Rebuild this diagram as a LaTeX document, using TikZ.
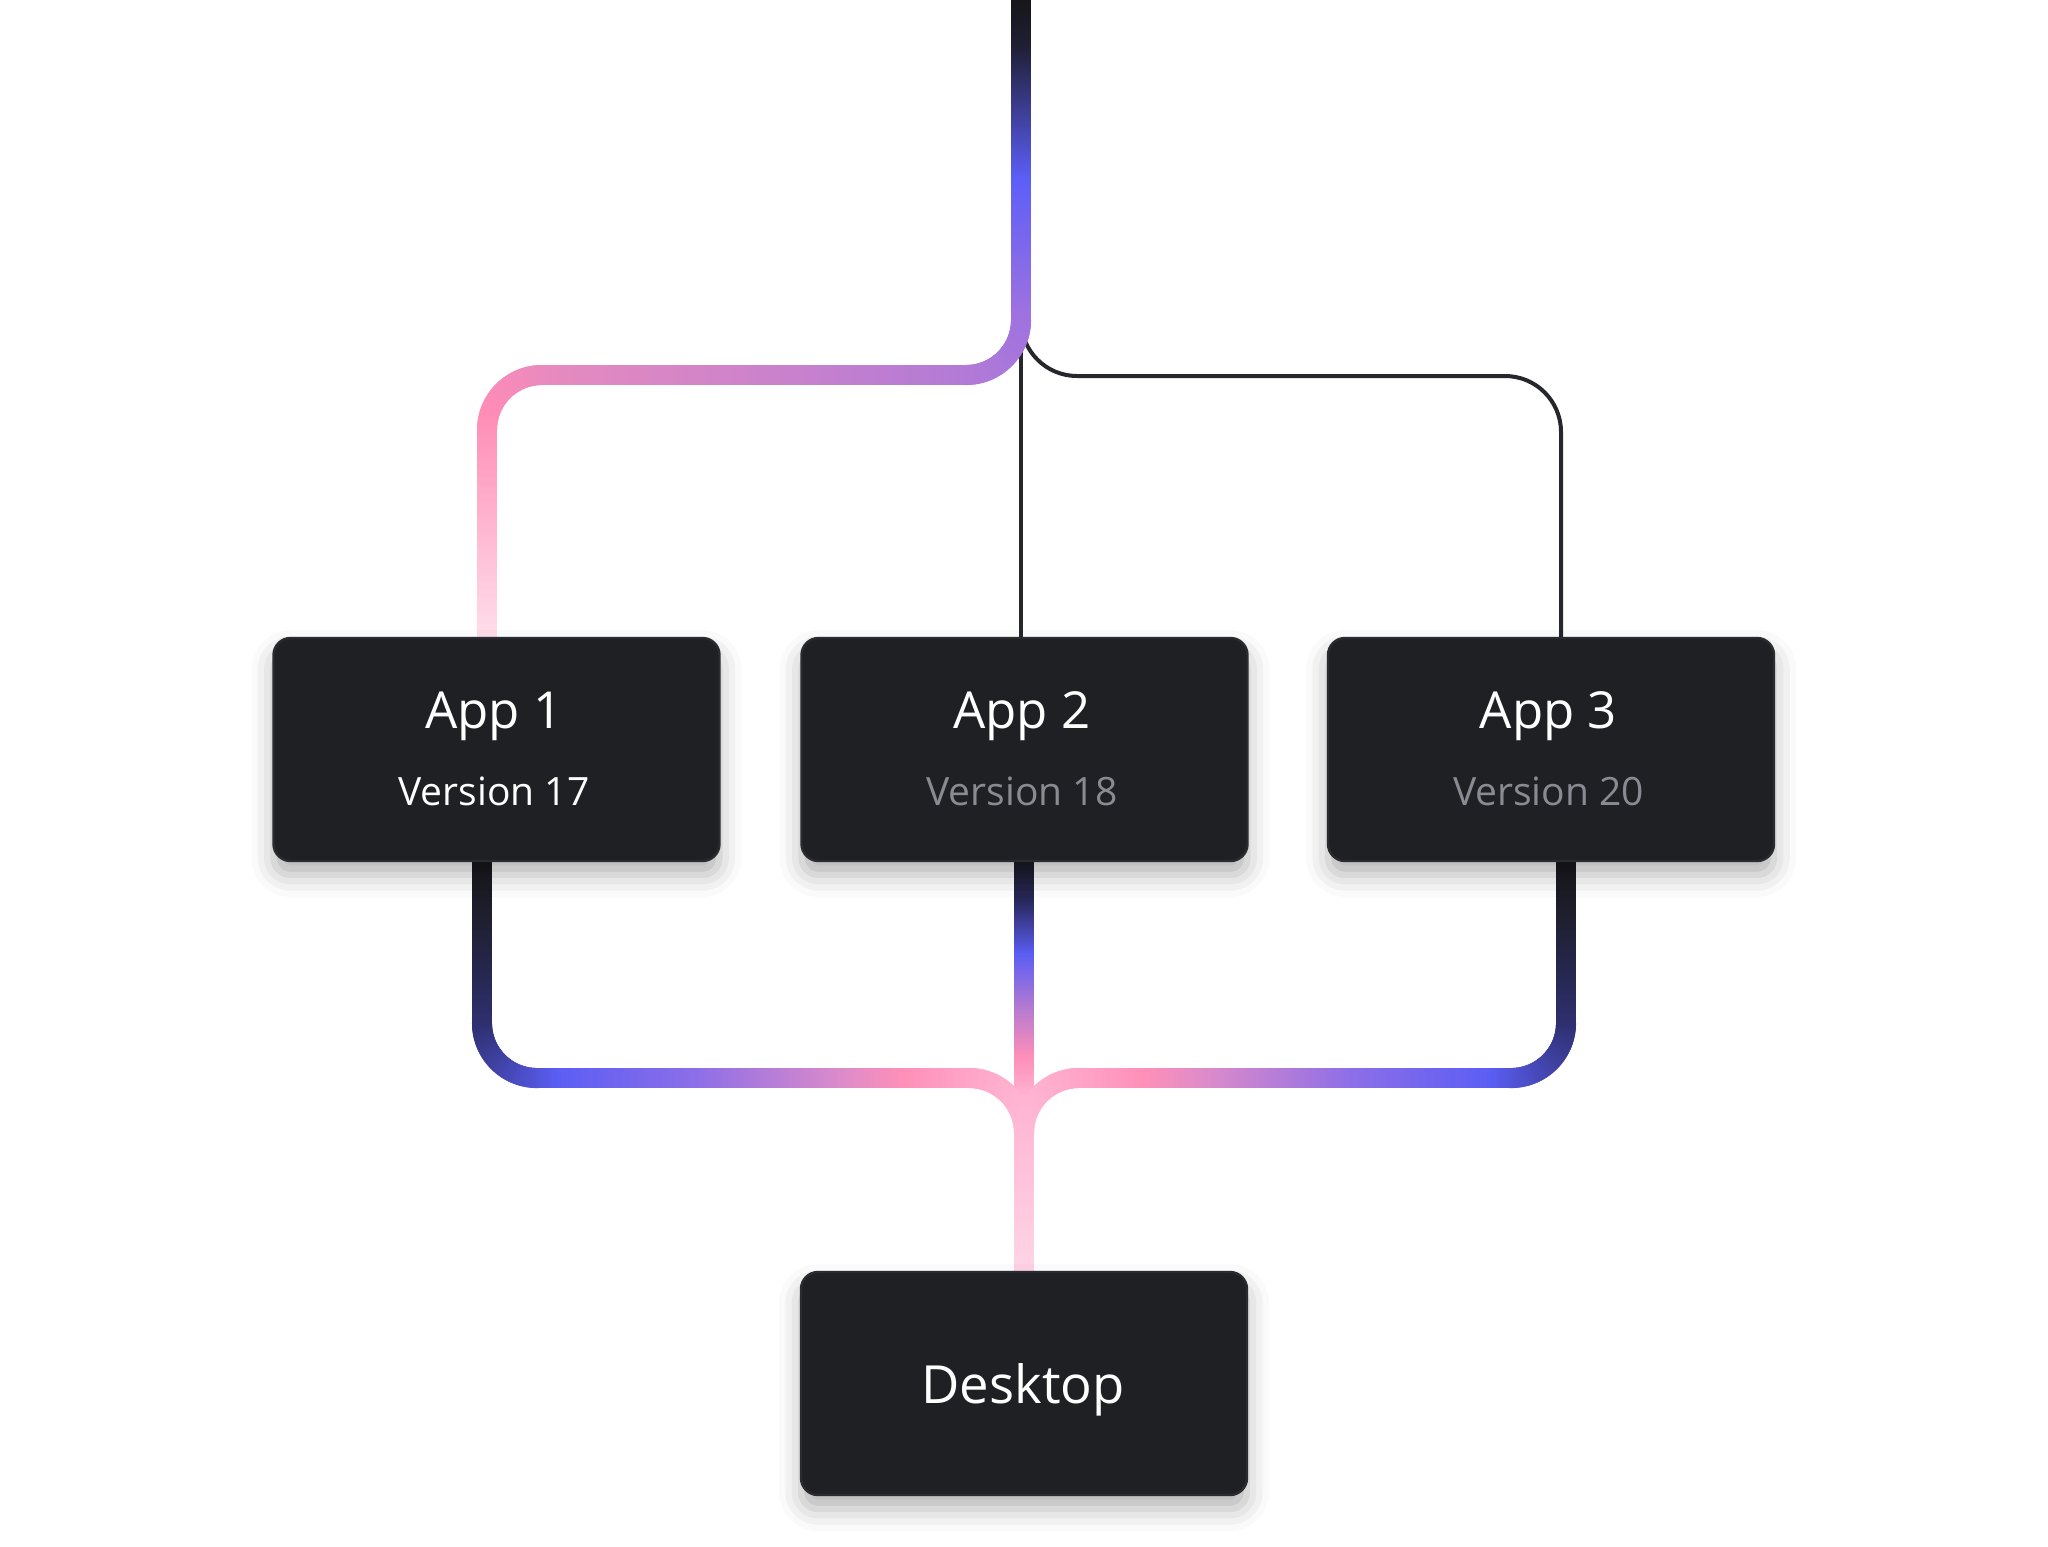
\documentclass[tikz,border=0pt]{standalone}
\usepackage{fontspec}
\setmainfont{Open Sans}
\usetikzlibrary{decorations.markings,shadows.blur,backgrounds}

\definecolor{boxfill}{HTML}{1F2024}
\definecolor{boxedge}{HTML}{2A2B30}
\definecolor{thinc}{HTML}{26272B}
\definecolor{vgray}{HTML}{8A8B92}

\let\gdT\relax
\makeatletter
\newcommand\defgrad[2]{%
  \gdef\acc@R{}\gdef\acc@G{}\gdef\acc@B{}%
  \foreach \qP/\qR/\qG/\qB [count=\qi, remember=\qP as \qpP (initially 0),
      remember=\qR as \qpR (initially 0), remember=\qG as \qpG (initially 0),
      remember=\qB as \qpB (initially 0)] in {#2}{%
    \ifnum\qi=1
      \xdef\acc@R{\qR}\xdef\acc@G{\qG}\xdef\acc@B{\qB}%
    \else
      \xdef\acc@R{\unexpanded\expandafter{\acc@R}+(\qR-\qpR)*min(max((\noexpand\gdT-\qpP)/(\qP-\qpP),0),1)}%
      \xdef\acc@G{\unexpanded\expandafter{\acc@G}+(\qG-\qpG)*min(max((\noexpand\gdT-\qpP)/(\qP-\qpP),0),1)}%
      \xdef\acc@B{\unexpanded\expandafter{\acc@B}+(\qB-\qpB)*min(max((\noexpand\gdT-\qpP)/(\qP-\qpP),0),1)}%
    \fi}%
  \expandafter\xdef\csname gradR@#1\endcsname{\unexpanded\expandafter{\acc@R}}%
  \expandafter\xdef\csname gradG@#1\endcsname{\unexpanded\expandafter{\acc@G}}%
  \expandafter\xdef\csname gradB@#1\endcsname{\unexpanded\expandafter{\acc@B}}%
}
\makeatother

\defgrad{A}{0/22/22/26, 0.04/30/30/50, 0.16/92/94/248, 0.28/158/114/224,
  0.36/178/122/214, 0.72/228/138/192, 0.80/255/140/182, 1/255/222/234}
\defgrad{B}{0/24/24/28, 0.06/30/30/45, 0.18/46/47/110, 0.30/91/94/245,
  0.45/140/110/232, 0.62/224/140/200, 0.68/255/143/184, 0.80/255/178/208, 1/255/212/229}
\defgrad{D}{0/26/26/36, 0.10/40/40/90, 0.23/91/94/245, 0.36/180/122/208,
  0.48/255/143/184, 0.58/255/180/210, 1/255/212/229}

\tikzset{
  gradpath/.style={
    postaction={decorate},
    decoration={markings,
      mark=between positions 0 and 1 step 1pt with {%
        \pgfmathsetmacro\gdT{(\pgfkeysvalueof{/pgf/decoration/mark info/distance from start})/(\pgfdecoratedpathlength)}%
        \pgfmathsetmacro\cR{(\csname gradR@#1\endcsname)/255}%
        \pgfmathsetmacro\cG{(\csname gradG@#1\endcsname)/255}%
        \pgfmathsetmacro\cB{(\csname gradB@#1\endcsname)/255}%
        \definecolor{gc}{rgb}{\cR,\cG,\cB}%
        \fill[gc, sharp corners] (-1.1pt,-5pt) rectangle (1.1pt,5pt);
      }}},
  appbox/.style={rectangle, rounded corners=8.5pt, fill=boxfill, draw=boxedge,
    line width=1.2pt, minimum width=223pt, minimum height=111.5pt,
    inner sep=0pt, outer sep=0pt,
    blur shadow={shadow xshift=0pt, shadow yshift=-7pt,
      shadow blur radius=11pt, shadow opacity=30}},
  titletxt/.style={text=white, font=\fontsize{25.5pt}{30pt}\selectfont,
    anchor=base, inner sep=0pt},
  vertxt/.style={font=\fontsize{19.5pt}{23pt}\selectfont, anchor=base, inner sep=0pt},
  thinline/.style={draw=thinc, line width=2pt},
}

\begin{document}
\begin{tikzpicture}[x=0.5pt, y=-0.5pt]
\path[use as bounding box] (0,0) rectangle (2048,1546);

% boxes
\node[appbox] (app1) at (496.5,749.5) {};
\node[appbox] (app2) at (1024.5,749.5) {};
\node[appbox] (app3) at (1551,749.5) {};
\node[appbox] (desk) at (1024,1383.5) {};

% texts
\node[titletxt] (t1) at ([xshift=-1.25pt,yshift=10.75pt]app1.center) {App 1};
\node[vertxt, text=white] (v1) at ([xshift=-1.25pt,yshift=-27.75pt]app1.center) {Version 17};
\node[titletxt] (t2) at ([xshift=-1.25pt,yshift=10.75pt]app2.center) {App 2};
\node[vertxt, text=vgray] (v2) at ([xshift=-1.25pt,yshift=-27.75pt]app2.center) {Version 18};
\node[titletxt] (t3) at ([xshift=-1.25pt,yshift=10.75pt]app3.center) {App 3};
\node[vertxt, text=vgray] (v3) at ([xshift=-1.25pt,yshift=-27.75pt]app3.center) {Version 20};
\node[titletxt, font=\fontsize{26.3pt}{32pt}\selectfont] (td) at ([xshift=-0.5pt,yshift=-9.75pt]desk.center) {Desktop};

% connector endpoints
\coordinate (src) at (1021,0);
\coordinate (br) at (1021,320);
\coordinate (a1top) at ([xshift=-4.75pt]app1.north);
\coordinate (a1bot) at ([xshift=-7.25pt]app1.south);
\coordinate (a2top) at ([xshift=-1.75pt]app2.north);
\coordinate (a2bot) at ([xshift=-0.25pt]app2.south);
\coordinate (a3top) at ([xshift=5pt]app3.north);
\coordinate (a3bot) at ([xshift=7.5pt]app3.south);
\coordinate (dtop) at (desk.north);

\begin{scope}[on background layer]
  \draw[thinline] (br) -- (a2top);
  \draw[thinline, rounded corners=28pt] (br) -- (1021,376) -- (1561,376) -- (a3top);
  \path[gradpath=D] (a2bot) -- (dtop);
  \path[gradpath=B, rounded corners=27.5pt] (a1bot) -- (482,1078) -- (1024,1078) -- (dtop);
  \path[gradpath=B, rounded corners=27.5pt] (a3bot) -- (1566,1078) -- (1024,1078) -- (dtop);
  \path[gradpath=A, rounded corners=27.5pt] (src) -- (1021,375) -- (487,375) -- (a1top);
\end{scope}
\end{tikzpicture}
\end{document}
